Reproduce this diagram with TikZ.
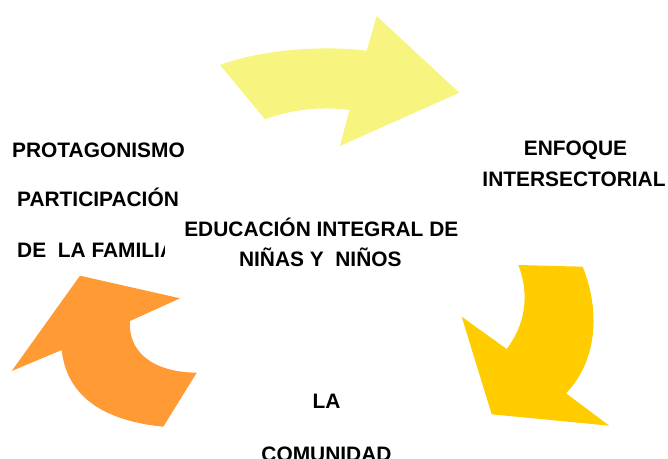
\documentclass[tikz,border=0pt]{standalone}
\usepackage{fontspec}
\setmainfont{Liberation Sans}
\definecolor{lightyel}{RGB}{247,245,128}
\definecolor{goldyel}{RGB}{255,204,0}
\definecolor{orangeA}{RGB}{255,154,53}
\begin{document}
\begin{tikzpicture}[x=1pt,y=-1pt,
  lbl/.style={font=\fontsize{20.9}{24}\selectfont\bfseries, inner sep=0pt, anchor=base}]
\clip (0,0) rectangle (668,458);
% arrows
\fill[lightyel] (220,65) .. controls (260,50) and (320,45) .. (366.7,50.7) -- (376.7,16) -- (459.3,92.7) -- (340,146) -- (349.3,110) .. controls (320,106) and (290,110) .. (265,119.3) -- cycle;
\fill[goldyel] (518.3,265) -- (582.7,266.7) .. controls (600,310) and (598,360) .. (566,393.3) -- (609.3,425.7) -- (491.7,414.3) -- (461.7,316.7) -- (506.7,349) .. controls (525,325) and (530,295) .. (518.3,265) -- cycle;
\fill[orangeA] (180,298.3) -- (80,275.7) -- (11.7,371) -- (61.7,350) .. controls (66,390) and (95,420) .. (163.3,426.7) -- (196.7,372.7) .. controls (150,372) and (128,350) .. (130,321) -- cycle;
% left texts
\node[lbl] (prot) at (98.5,157) {PROTAGONISMO};
\node[lbl] (part) at (98,206) {PARTICIPACIÓN};
\node[lbl, anchor=base west] (fam) at (17,257) {DE\ \ LA FAMILIA};
% central box
\fill[white] (165,212) rectangle (481,280);
\node[lbl] (edu) at (321.3,236) {EDUCACIÓN INTEGRAL DE};
\node[lbl] (nin) at (320.3,266) {NIÑAS Y\ \ NIÑOS};
% right texts
\node[lbl] (enf) at (575.5,155) {ENFOQUE};
\node[lbl] (inter) at (574,186) {INTERSECTORIAL};
% bottom texts
\node[lbl] (la) at (326.5,408) {LA};
\node[lbl] (com) at (326.5,461.5) {COMUNIDAD};
\end{tikzpicture}
\end{document}
